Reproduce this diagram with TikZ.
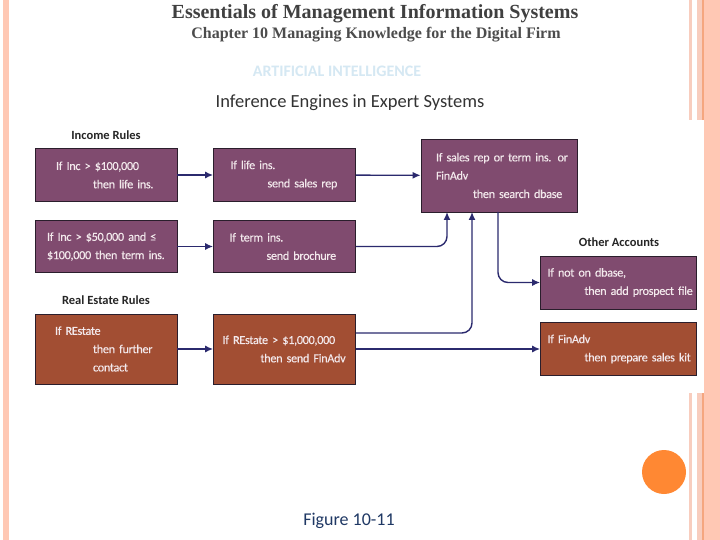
\documentclass[tikz,border=0pt]{standalone}
\usepackage{fontspec}
\setmainfont{Carlito}
\newfontfamily\serifhead{Liberation Serif}
\newfontfamily\rulefont[WordSpace=0.6,FakeBold=0.2,LetterSpace=-2.5]{Carlito}
\usepackage{xcolor}
\usepackage{tikz}
\usetikzlibrary{arrows.meta}
\definecolor{framepeach}{HTML}{FFC8B4}
\definecolor{framepale}{HTML}{F8CDBE}
\definecolor{frameline}{HTML}{F5A67F}
\definecolor{incomeplum}{HTML}{804B6F}
\definecolor{estatebrick}{HTML}{A24E33}
\definecolor{boxedge}{HTML}{2A1E2C}
\definecolor{linknavy}{HTML}{2B2A6E}
\definecolor{boxtext}{HTML}{F3E9EC}
\definecolor{dotorange}{HTML}{FF8833}
\definecolor{sectionblue}{HTML}{D5E8F3}
\definecolor{figurenavy}{HTML}{1F3864}
\tikzstyle{arrow} = [-{Latex[length=8pt,width=7pt]}, linknavy, line width=1.4pt]
\tikzstyle{curved} = [arrow, rounded corners=10pt]
\tikzstyle{rulebox} = [draw=boxedge, line width=0.7pt, inner xsep=0pt, inner ysep=0pt, align=left, text=boxtext, font=\rulefont\fontsize{12.2}{18.3}\selectfont]
\tikzstyle{income} = [rulebox, fill=incomeplum]
\tikzstyle{estate} = [rulebox, fill=estatebrick]
\tikzstyle{narrow} = [text width=142pt]
\tikzstyle{wide} = [text width=156pt]
\tikzstyle{grouplabel} = [font=\bfseries\fontsize{12.5}{14}\selectfont, text=black!85]
\begin{document}
\begin{tikzpicture}[x=1pt, y=-1pt, node distance=71.5pt]
		% slide frame
		\useasboundingbox (0,0) rectangle (720,540);
		\fill [white] (0,0) rectangle (720,540);
		\fill [framepeach] (3,0) rectangle (9,540);
		\fill [framepeach] (704,0) rectangle (720,540);
		\fill [frameline] (702,0) rectangle (704,540);
		\fill [framepale] (697,0) rectangle (702,540);
		\fill [framepale] (689,0) rectangle (692,540);
		\fill [white] (600,120) rectangle (704,393);
		
		\node (title) [font=\serifhead\bfseries\fontsize{20}{22}\selectfont, text=black!75] at (375,14) {Essentials of Management Information Systems};
		\node (chapter) [font=\serifhead\bfseries\fontsize{16}{18}\selectfont, text=black!70] at (376,35) {Chapter 10 Managing Knowledge for the Digital Firm};
		\node (section) [font=\bfseries\fontsize{16}{18}\selectfont, text=sectionblue] at (337,71) {ARTIFICIAL INTELLIGENCE};
		\node (heading) [font=\fontsize{18.5}{20}\selectfont, text=black!80] at (350,103) {Inference Engines in Expert Systems};
		
		% income and estate rules
		\node (ifinc) [income, narrow, minimum height=53pt] at (106,175) {\hspace*{21pt}If Inc > \$100,000\\\hspace*{58pt}then life ins.};
		\node (lifeins) [income, narrow, minimum height=53pt, right of=ifinc, xshift=107pt] {\hspace*{17pt}If life ins.\\\hspace*{54pt}send sales rep};
		\node (ifterm) [income, narrow, minimum height=52pt, below of=ifinc] {\hspace*{12pt}If Inc > \$50,000 and ≤\\\hspace*{12pt}\$100,000 then term ins.};
		\node (termins) [income, narrow, minimum height=52pt, right of=ifterm, xshift=107pt] {\hspace*{16pt}If term ins.\\\hspace*{53pt}send brochure};
		\node (ifestate) [estate, narrow, minimum height=70pt] at (106,349) {\hspace*{20pt}If REstate\\\hspace*{58pt}then further\\\hspace*{58pt}contact};
		\node (bigestate) [estate, narrow, minimum height=70pt, right of=ifestate, xshift=107pt] {\hspace*{9pt}If REstate > \$1,000,000\\\hspace*{47pt}then send FinAdv};
		\node (search) [income, wide, minimum height=73pt] at (499,175.5) {\hspace*{15pt}If sales rep or term ins. or\\\hspace*{15pt}FinAdv\\\hspace*{52pt}then search dbase};
		\node (prospect) [income, wide, minimum height=53pt] at (618.5,282.5) {\hspace*{7pt}If not on dbase,\\\hspace*{44pt}then add prospect file};
		\node (saleskit) [estate, wide, minimum height=53pt] at (618.5,349) {\hspace*{7pt}If FinAdv\\\hspace*{44pt}then prepare sales kit};
		
		\node (incomelabel) [grouplabel, above of=ifinc, yshift=-31.5pt] {Income Rules};
		\node (estatelabel) [grouplabel, above of=ifestate, yshift=-22.5pt] {Real Estate Rules};
		\node (otherlabel) [grouplabel] at (619,242) {Other Accounts};
		
		\coordinate (termup) at (447,212);
		\coordinate (advup) at (472,212);
		\coordinate (searchout) at (498,212);
		\coordinate (advout) at (356,333);
		
		\draw [arrow] (ifinc) -- (lifeins);
		\draw [arrow] (ifterm) -- (termins);
		\draw [arrow] (ifestate) -- (bigestate);
		\draw [arrow] (lifeins) -- (search);
		\draw [curved] (termins.east) -| (termup);
		\draw [curved] (advout) -| (advup);
		\draw [curved] (searchout) |- (prospect.west);
		\draw [arrow] (bigestate.east) -- (saleskit.west);
		
		\node (dot) [circle, fill=dotorange, minimum size=44pt, inner sep=0pt] at (664,472) {};
		\node (figure) [font=\fontsize{18}{20}\selectfont, text=figurenavy] at (349,521) {Figure 10-11};
	\end{tikzpicture}
\end{document}
